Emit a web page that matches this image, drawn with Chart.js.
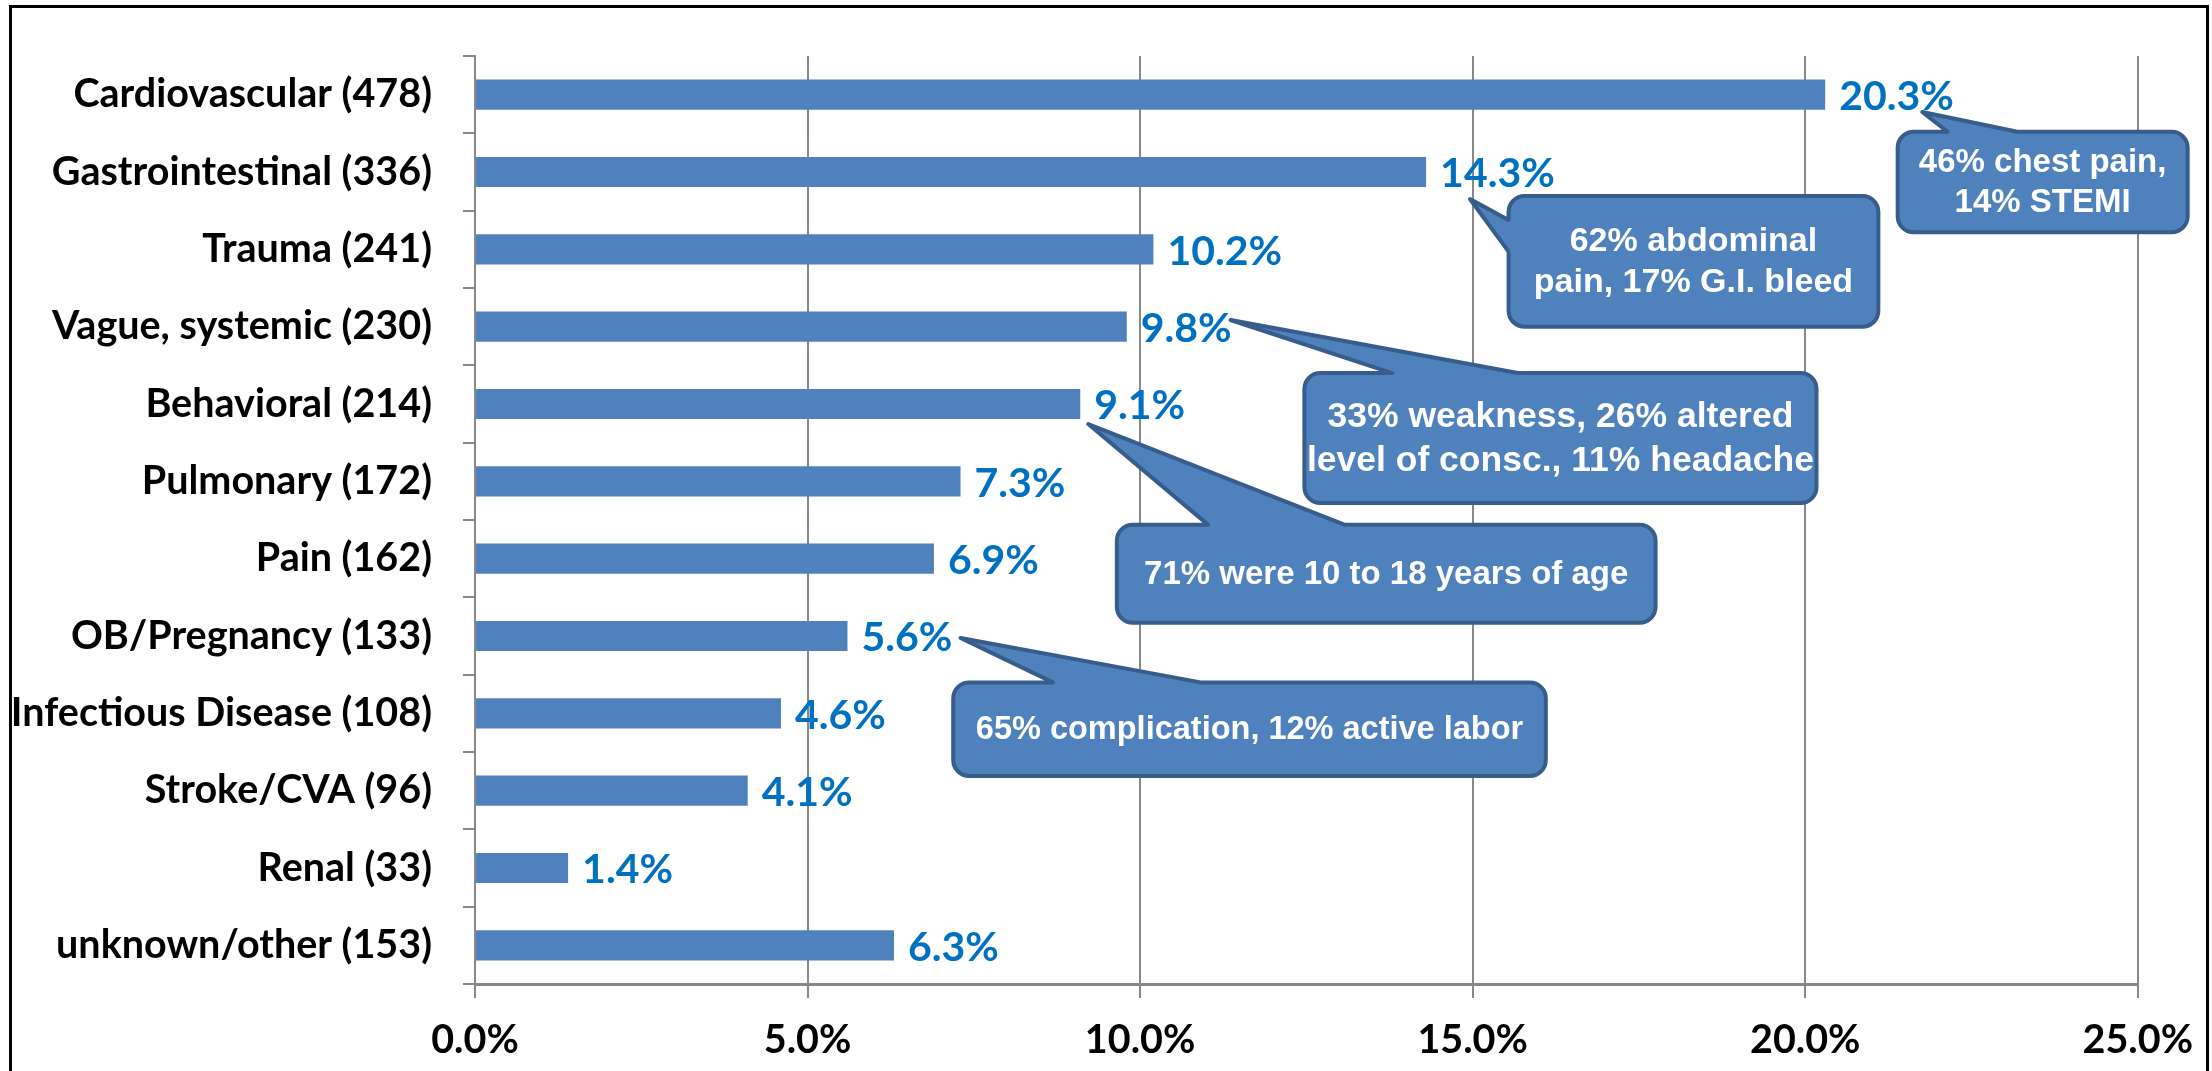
<!DOCTYPE html>
<html>
<head>
<meta charset="utf-8">
<script src="https://cdn.jsdelivr.net/npm/chart.js@4.4.1/dist/chart.umd.min.js"></script>
<style>
  html, body { margin: 0; padding: 0; background: #fff; overflow: hidden; }
  canvas { display: block; }
</style>
</head>
<body>
<canvas id="chart" width="2212" height="1071"></canvas>
<script>
const categories = ['Cardiovascular (478)', 'Gastrointestinal (336)', 'Trauma (241)', 'Vague, systemic (230)',
  'Behavioral (214)', 'Pulmonary (172)', 'Pain (162)', 'OB/Pregnancy (133)', 'Infectious Disease (108)',
  'Stroke/CVA (96)', 'Renal (33)', 'unknown/other (153)'];
const shares = [20.3, 14.3, 10.2, 9.8, 9.1, 7.3, 6.9, 5.6, 4.6, 4.1, 1.4, 6.3];
const xMax = 25;
const xStep = 5;

// callouts, placed in chart units (x = percent, y = category index)
const calloutText = [
  ['46% chest pain,', '14% STEMI'],
  ['62% abdominal', 'pain, 17% G.I. bleed'],
  ['33% weakness, 26% altered', 'level of consc., 11% headache'],
  ['71% were 10 to 18 years of age'],
  ['65% complication, 12% active labor']
];
const calloutFontSize = [33, 34, 35.5, 33, 32.5];
const calloutLineGap = [40, 41, 44, 0, 0];
// [left, right, top, bottom]
const calloutBox = [
  [21.39, 25.75, 0.48, 1.78],
  [15.54, 21.10, 1.31, 3.00],
  [12.47, 20.17, 3.60, 5.28],
  [9.65, 17.75, 5.56, 6.83],
  [7.19, 16.10, 7.60, 8.81]
];
const calloutTip = [
  [21.76, 0.224],
  [14.96, 1.349],
  [11.36, 2.914],
  [9.22, 4.259],
  [7.30, 7.026]
];
// edge the pointer leaves from, and where it meets that edge
const calloutBase = [
  ['top', 22.14, 23.19],
  ['left', 1.62, 2.03],
  ['top', 13.79, 15.68],
  ['top', 11.02, 13.07],
  ['top', 8.69, 10.91]
];

const axisGrey = '#888888';

const framePlugin = {
  id: 'frame',
  beforeDraw(chart) {
    const ctx = chart.ctx;
    ctx.save();
    ctx.fillStyle = '#fff';
    ctx.fillRect(0, 0, chart.width, chart.height);
    ctx.strokeStyle = '#000';
    ctx.lineWidth = 3;
    ctx.beginPath();
    ctx.moveTo(10.5, chart.height + 5);
    ctx.lineTo(10.5, 6.5);
    ctx.lineTo(2207.5, 6.5);
    ctx.lineTo(2207.5, chart.height + 5);
    ctx.stroke();
    ctx.restore();
  }
};

const valueLabels = {
  id: 'valueLabels',
  afterDatasetsDraw(chart) {
    const ctx = chart.ctx;
    const meta = chart.getDatasetMeta(0);
    ctx.save();
    ctx.font = 'bold 41px Lato';
    ctx.fillStyle = '#0070C0';
    ctx.textAlign = 'left';
    ctx.textBaseline = 'middle';
    meta.data.forEach((bar, i) => {
      ctx.fillText(shares[i].toFixed(1) + '%', bar.x + 14, bar.y + 2);
    });
    ctx.restore();
  }
};

function calloutPath(ctx, l, t, r, b, rad, tip, edge, p1, p2) {
  ctx.beginPath();
  ctx.moveTo(l + rad, t);
  if (edge === 'top') {
    ctx.lineTo(p1, t);
    ctx.lineTo(tip[0], tip[1]);
    ctx.lineTo(p2, t);
  }
  ctx.arcTo(r, t, r, b, rad);
  ctx.arcTo(r, b, l, b, rad);
  ctx.arcTo(l, b, l, t, rad);
  if (edge === 'left') {
    ctx.lineTo(l, p2);
    ctx.lineTo(tip[0], tip[1]);
    ctx.lineTo(l, p1);
  }
  ctx.arcTo(l, t, r, t, rad);
  ctx.closePath();
}

const callouts = {
  id: 'callouts',
  afterDraw(chart) {
    const ctx = chart.ctx;
    const xs = chart.scales.x, ys = chart.scales.y;
    ctx.save();
    calloutBox.forEach((box, k) => {
      const l = xs.getPixelForValue(box[0]), r = xs.getPixelForValue(box[1]);
      const t = ys.getPixelForValue(box[2]), b = ys.getPixelForValue(box[3]);
      const tip = [xs.getPixelForValue(calloutTip[k][0]), ys.getPixelForValue(calloutTip[k][1])];
      const base = calloutBase[k];
      let p1, p2;
      if (base[0] === 'top') {
        p1 = xs.getPixelForValue(base[1]); p2 = xs.getPixelForValue(base[2]);
      } else {
        p1 = ys.getPixelForValue(base[1]); p2 = ys.getPixelForValue(base[2]);
      }
      calloutPath(ctx, l, t, r, b, 16, tip, base[0], p1, p2);
      ctx.fillStyle = '#4F81BD';
      ctx.fill();
      ctx.lineWidth = 4;
      ctx.lineJoin = 'round';
      ctx.strokeStyle = '#385D8A';
      ctx.stroke();

      const lines = calloutText[k];
      ctx.fillStyle = '#fff';
      ctx.font = 'bold ' + calloutFontSize[k] + 'px "Liberation Sans"';
      ctx.textAlign = 'center';
      ctx.textBaseline = 'middle';
      const cx = (l + r) / 2, cy = (t + b) / 2;
      lines.forEach((s, j) => {
        ctx.fillText(s, cx, cy + 1 + (j - (lines.length - 1) / 2) * calloutLineGap[k]);
      });
    });
    ctx.restore();
  }
};

new Chart(document.getElementById('chart'), {
  type: 'bar',
  data: {
    labels: categories,
    datasets: [{
      data: shares,
      backgroundColor: '#4F81BD',
      borderWidth: 0,
      categoryPercentage: 1,
      barPercentage: 0.39
    }]
  },
  options: {
    indexAxis: 'y',
    responsive: false,
    animation: false,
    devicePixelRatio: 1,
    layout: { padding: { top: 56, right: 69, left: 0, bottom: 0 } },
    plugins: {
      legend: { display: false },
      tooltip: { enabled: false }
    },
    scales: {
      x: {
        min: 0,
        max: xMax,
        ticks: {
          stepSize: xStep,
          color: '#000',
          font: { family: 'Lato', weight: 'bold', size: 39.5 },
          padding: 19,
          callback: v => v.toFixed(1) + '%'
        },
        grid: { color: axisGrey, lineWidth: 2, tickLength: 14 },
        border: { color: axisGrey, width: 3 },
        afterFit(scale) { scale.height = 87; }
      },
      y: {
        ticks: {
          color: '#000',
          font: { family: 'Lato', weight: 'bold', size: 39.5 },
          padding: 31
        },
        grid: { drawOnChartArea: false, color: axisGrey, lineWidth: 2, tickLength: 12 },
        border: { color: axisGrey, width: 2 },
        afterFit(scale) { scale.width = 475; }
      }
    }
  },
  plugins: [framePlugin, valueLabels, callouts]
});
</script>
</body>
</html>
